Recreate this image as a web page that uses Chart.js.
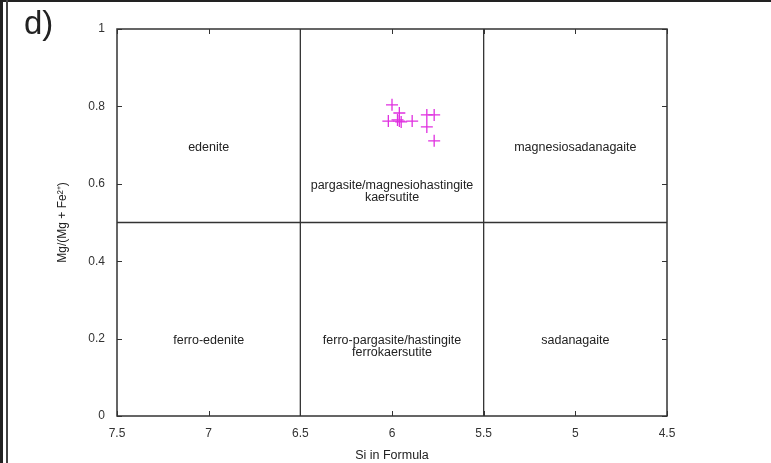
<!DOCTYPE html>
<html>
<head>
<meta charset="utf-8">
<script src="https://cdn.jsdelivr.net/npm/chart.js@4.4.1/dist/chart.umd.min.js"></script>
<style>
  html, body { margin: 0; padding: 0; background: #fff; }
  #wrap { position: relative; width: 771px; height: 463px; }
</style>
</head>
<body>
<div id="wrap"><canvas id="amphCanvas" width="771" height="463"></canvas></div>
<script>
// Si (apfu) and Mg/(Mg+Fe2+) for each analysis
const siValues = [6.00, 5.96, 6.02, 5.96, 5.95, 5.97, 5.89, 5.81, 5.77, 5.81, 5.77];
const mgValues = [0.804, 0.783, 0.762, 0.762, 0.760, 0.765, 0.762, 0.778, 0.778, 0.747, 0.711];

const xTicks = [7.5, 7, 6.5, 6, 5.5, 5, 4.5];
const yTicks = [0, 0.2, 0.4, 0.6, 0.8, 1];

// field boundaries
const siBounds = [6.5, 5.5];
const mgBound = 0.5;

// field names and where they sit
const fieldLines = [
  ['edenite'],
  ['magnesiosadanagaite'],
  ['pargasite/magnesiohastingite', 'kaersutite'],
  ['ferro-edenite'],
  ['ferro-pargasite/hastingite', 'ferrokaersutite'],
  ['sadanagaite']
];
const fieldX = [7.0, 5.0, 6.0, 7.0, 6.0, 5.0];
const fieldY = [0.693, 0.693, 0.596, 0.196, 0.196, 0.196];

const ink = '#333';
const fontFamily = '"Liberation Sans", Arial, sans-serif';

const points = siValues.map((si, i) => ({ x: si, y: mgValues[i] }));

const boundaryData = [
  { data: [{ x: siBounds[0], y: 0 }, { x: siBounds[0], y: 1 }] },
  { data: [{ x: siBounds[1], y: 0 }, { x: siBounds[1], y: 1 }] },
  { data: [{ x: 7.5, y: mgBound }, { x: 4.5, y: mgBound }] }
].map(d => ({
  type: 'line',
  data: d.data,
  borderColor: ink,
  borderWidth: 1.3,
  pointRadius: 0,
  fill: false,
  order: 2
}));

const framePlugin = {
  id: 'frame',
  beforeDraw(chart) {
    const ctx = chart.ctx;
    ctx.save();
    ctx.fillStyle = '#fff';
    ctx.fillRect(0, 0, chart.width, chart.height);
    // page edges
    ctx.fillStyle = '#222';
    ctx.fillRect(0, 0, chart.width, 2);
    ctx.fillRect(0, 0, 3, chart.height);
    ctx.fillStyle = '#444';
    ctx.fillRect(6, 0, 2, chart.height);
    // panel letter
    ctx.fillStyle = '#222';
    ctx.font = '33px ' + fontFamily;
    ctx.textBaseline = 'top';
    ctx.fillText('d)', 24, 8);
    ctx.restore();
  },
  afterDatasetsDraw(chart) {
    const { ctx, chartArea: a, scales: { x, y } } = chart;
    ctx.save();
    ctx.strokeStyle = ink;
    ctx.lineWidth = 1.5;
    ctx.strokeRect(a.left, a.top, a.right - a.left, a.bottom - a.top);
    // inward ticks, mirrored on top and right
    ctx.lineWidth = 1;
    ctx.beginPath();
    xTicks.forEach(v => {
      const px = Math.round(x.getPixelForValue(v)) + 0.5;
      ctx.moveTo(px, a.bottom); ctx.lineTo(px, a.bottom - 5);
      ctx.moveTo(px, a.top); ctx.lineTo(px, a.top + 5);
    });
    yTicks.forEach(v => {
      const py = Math.round(y.getPixelForValue(v)) + 0.5;
      ctx.moveTo(a.left, py); ctx.lineTo(a.left + 5, py);
      ctx.moveTo(a.right, py); ctx.lineTo(a.right - 5, py);
    });
    ctx.stroke();
    // field names
    ctx.fillStyle = '#222';
    ctx.font = '12.5px ' + fontFamily;
    ctx.textAlign = 'center';
    ctx.textBaseline = 'middle';
    fieldLines.forEach((lines, i) => {
      const px = x.getPixelForValue(fieldX[i]);
      const py = y.getPixelForValue(fieldY[i]);
      lines.forEach((t, j) => ctx.fillText(t, px, py + j * 12.5));
    });
    ctx.restore();
  }
};

new Chart(document.getElementById('amphCanvas'), {
  type: 'scatter',
  data: {
    datasets: [{
      data: points,
      pointStyle: 'cross',
      pointRadius: 6,
      pointHoverRadius: 6,
      pointBorderWidth: 1.3,
      borderColor: '#e030e0',
      backgroundColor: '#e030e0',
      order: 1
    }, ...boundaryData]
  },
  options: {
    responsive: false,
    animation: false,
    devicePixelRatio: 1,
    layout: { padding: { left: 55, right: 104, top: 29, bottom: 0 } },
    plugins: { legend: { display: false }, tooltip: { enabled: false } },
    scales: {
      x: {
        type: 'linear',
        min: 4.5,
        max: 7.5,
        reverse: true,
        afterBuildTicks: s => { s.ticks = xTicks.map(v => ({ value: v })); },
        afterFit: s => { s.height = 47; },
        grid: { display: false, drawTicks: false },
        border: { display: false },
        ticks: {
          color: ink,
          padding: 10,
          font: { family: fontFamily, size: 12 },
          callback: v => String(v)
        },
        title: {
          display: true,
          text: 'Si in Formula',
          color: '#222',
          padding: { top: 2, bottom: 0 },
          font: { family: fontFamily, size: 12.5 }
        }
      },
      y: {
        type: 'linear',
        min: 0,
        max: 1,
        afterBuildTicks: s => { s.ticks = yTicks.map(v => ({ value: v })); },
        afterFit: s => { s.width = 62; },
        grid: { display: false, drawTicks: false },
        border: { display: false },
        ticks: {
          color: ink,
          padding: 12,
          font: { family: fontFamily, size: 12 },
          callback: v => String(v)
        },
        title: {
          display: true,
          text: 'Mg/(Mg + Fe²⁺)',
          color: '#222',
          padding: { top: 0, bottom: 0 },
          font: { family: fontFamily, size: 12 }
        }
      }
    }
  },
  plugins: [framePlugin]
});
</script>
</body>
</html>
